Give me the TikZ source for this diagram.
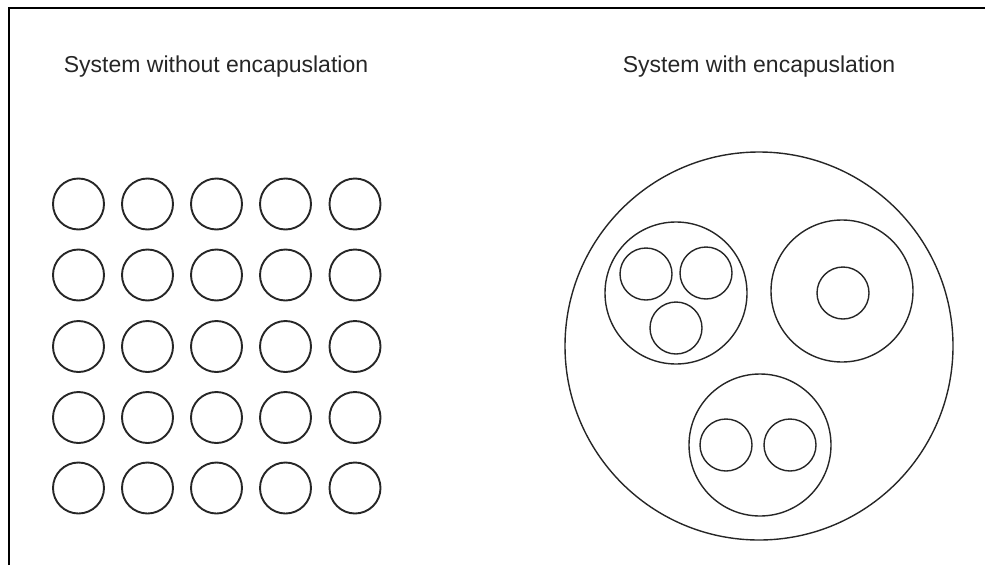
\documentclass[tikz,border=0pt]{standalone}
\usepackage{fontspec}
\setmainfont{Liberation Sans}
\begin{document}
\begin{tikzpicture}[x=1pt,y=-1pt,
  ln/.style={draw=black!85, line width=1.4pt},
  cell/.style={circle, ln, line width=1.9pt, inner sep=0pt, minimum size=51pt},
  small/.style={circle, ln, inner sep=0pt, minimum size=52pt},
  group/.style={circle, ln, inner sep=0pt, minimum size=142pt},
  whole/.style={circle, ln, inner sep=0pt, minimum size=388pt},
  title/.style={anchor=base, inner sep=0pt, text=black!85, font=\fontsize{23}{27}\selectfont}]
\useasboundingbox (0,0) rectangle (985,565);
\coordinate (tl) at (9,8);
\coordinate (tr) at (985,8);
\coordinate (bl) at (9,565);
\draw[draw=black, line width=1.5pt] (bl) -- (tl) -- (tr);

\node[title] (t1) at (216,72) {System without encapuslation};
\node[title] (t2) at (759,72) {System with encapuslation};

\foreach \r/\yy in {1/204,2/275,3/346.5,4/417.5,5/488}{
  \foreach \c/\xx in {1/78.5,2/147.5,3/216.5,4/285.5,5/355}{
    \node[cell] (g\r\c) at (\xx,\yy) {};
  }
}

\node[whole] (sys) at (759,346) {};
\node[group] (ga) at (676,293) {};
\node[small] (a1) at (646,274) {};
\node[small] (a2) at (706,273) {};
\node[small] (a3) at (676,328) {};
\node[group] (gb) at (842,291) {};
\node[small] (b1) at (843,293) {};
\node[group] (gc) at (760,445) {};
\node[small] (c1) at (726,445) {};
\node[small] (c2) at (790,445) {};
\end{tikzpicture}
\end{document}
